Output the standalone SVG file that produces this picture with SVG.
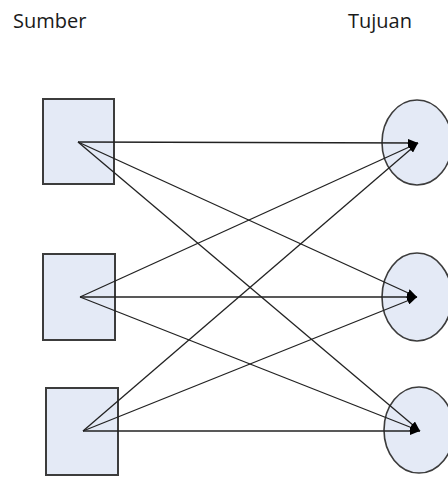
<svg xmlns="http://www.w3.org/2000/svg" width="448" height="477" viewBox="0 0 448 477">
<style>
.lbl{font-family:"Open Sans","Liberation Sans",sans-serif;font-size:20px;fill:#1a1a1a}
.src{fill:#e4eaf6;stroke:#3c3c3c;stroke-width:2}
.dst{fill:#e4eaf6;stroke:#3c3c3c;stroke-width:1.6}
.edge{stroke:#222;stroke-width:1.3;fill:none;marker-end:url(#ah)}
</style>
<defs>
<marker id="ah" viewBox="0 0 10 8" refX="10" refY="4" markerWidth="10" markerHeight="8" markerUnits="userSpaceOnUse" orient="auto">
<path d="M0,0 L10,4 L0,8 Z" fill="#000"/>
</marker>
</defs>
<rect width="448" height="477" fill="#fff"/>
<text class="lbl" x="13" y="28">Sumber</text>
<text class="lbl" x="348" y="28">Tujuan</text>
<g id="s1"><rect class="src" x="43" y="99" width="71" height="85"/></g>
<g id="s2"><rect class="src" x="43" y="254" width="72" height="86"/></g>
<g id="s3"><rect class="src" x="46" y="388" width="72" height="87"/></g>
<g id="t1"><ellipse class="dst" cx="417" cy="142.5" rx="35" ry="42.5"/></g>
<g id="t2"><ellipse class="dst" cx="417" cy="297" rx="35" ry="44"/></g>
<g id="t3"><ellipse class="dst" cx="419" cy="430" rx="35" ry="43"/></g>
<g id="edges">
<line class="edge" x1="78" y1="142" x2="418" y2="143"/>
<line class="edge" x1="78" y1="142" x2="417" y2="297"/>
<line class="edge" x1="78" y1="142" x2="420" y2="431"/>
<line class="edge" x1="80" y1="297" x2="418" y2="143"/>
<line class="edge" x1="80" y1="297" x2="417" y2="297"/>
<line class="edge" x1="80" y1="297" x2="420" y2="431"/>
<line class="edge" x1="83" y1="431" x2="418" y2="143"/>
<line class="edge" x1="83" y1="431" x2="417" y2="297"/>
<line class="edge" x1="83" y1="431" x2="420" y2="431"/>
</g>
</svg>
